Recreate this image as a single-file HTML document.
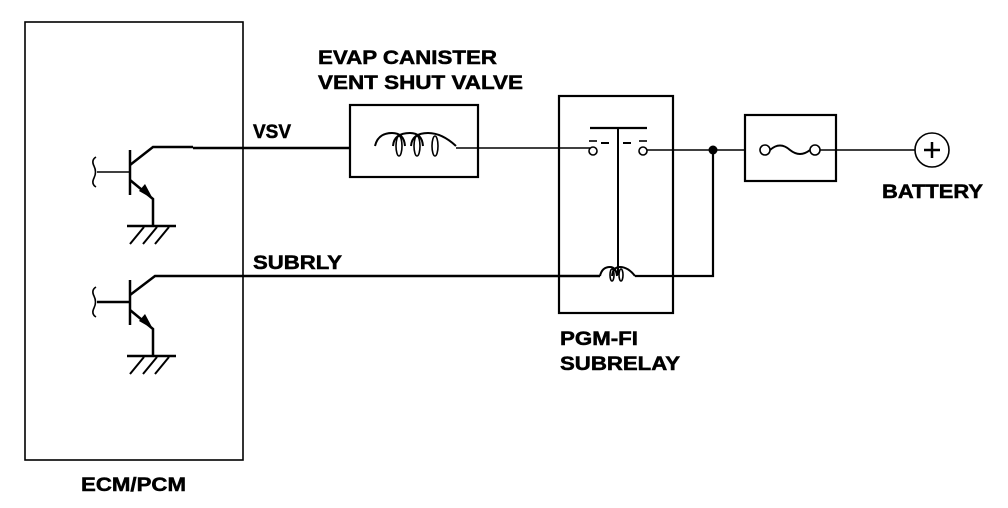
<!DOCTYPE html>
<html><head><style>html,body{margin:0;padding:0;background:#fff}svg{display:block}</style></head>
<body>
<svg width="1008" height="508" viewBox="0 0 1008 508" xmlns="http://www.w3.org/2000/svg">
<g fill="none" stroke="#000" stroke-width="1.6">
<rect x="25" y="22" width="218" height="438"/>
<line x1="130" y1="150" x2="130" y2="195" stroke-width="2.5"/>
<line x1="97" y1="172" x2="130" y2="172"/>
<path d="M96 157 Q91 160 94 166 Q97 172 94 178 Q91 184 96 187"/>
<path d="M130 165 L153 147 L193 147" stroke-width="2.5"/>
<line x1="193" y1="148" x2="350" y2="148" stroke-width="2.5"/>
<path d="M130 180 L153 199 L153 226" stroke-width="2.5"/>
<line x1="127" y1="226" x2="176" y2="226" stroke-width="2.5"/>
<path d="M144 227 L130 244 M157 227 L143 244 M169 227 L155 244" stroke-width="2"/>
<line x1="130" y1="280" x2="130" y2="325" stroke-width="2.5"/>
<line x1="97" y1="302" x2="130" y2="302" stroke-width="2.5"/>
<path d="M96 287 Q91 290 94 296 Q97 302 94 308 Q91 314 96 317"/>
<path d="M130 295 L155 276 L600 276" stroke-width="2.5"/>
<path d="M130 310 L153 329 L153 356" stroke-width="2.5"/>
<line x1="127" y1="356" x2="176" y2="356" stroke-width="2.5"/>
<path d="M144 357 L130 374 M157 357 L143 374 M169 357 L155 374" stroke-width="2"/>
<rect x="350" y="105" width="128" height="72" stroke-width="2.2"/>
<path d="M375 146 Q378 133 392 133 Q404 133 405 146 M393 146 Q394 133 410 133 Q422 133 423 146 M411 146 Q412 133 428 133 Q442 133 456 146" stroke-width="2"/>
<ellipse cx="399" cy="146" rx="3" ry="10"/><ellipse cx="417" cy="146" rx="3" ry="10"/><ellipse cx="435" cy="146" rx="3" ry="10"/>
<line x1="456" y1="148" x2="590" y2="148"/>
<rect x="559" y="96" width="114" height="217" stroke-width="2.2"/>
<line x1="590" y1="128" x2="647" y2="128" stroke-width="2.2"/>
<line x1="618" y1="128" x2="618" y2="275" stroke-width="2"/>
<circle cx="593" cy="151" r="4"/><circle cx="643" cy="151" r="4"/>
<line x1="589" y1="141" x2="597" y2="141"/><line x1="639" y1="141" x2="647" y2="141"/>
<line x1="601" y1="143" x2="609" y2="143" stroke-width="2"/><line x1="623" y1="143" x2="631" y2="143" stroke-width="2"/>
<line x1="647" y1="150" x2="745" y2="150"/>
<path d="M600 276 Q602 267 610 267 Q616 267 617 276 M612 276 Q613 267 620 267 Q628 267 635 276" stroke-width="2"/>
<ellipse cx="612" cy="275" rx="2" ry="6"/><ellipse cx="621" cy="275" rx="2" ry="6"/>
<path d="M635 276 L713 276 L713 150" stroke-width="2.2"/>
<rect x="745" y="115" width="91" height="66" stroke-width="2.2"/>
<circle cx="765" cy="150" r="5"/><circle cx="815" cy="150" r="5"/>
<path d="M770 150 Q780 141 790 150 Q800 158 810 150" stroke-width="2"/>
<line x1="820" y1="150" x2="915" y2="150"/>
<circle cx="932" cy="150" r="17"/>
<line x1="924" y1="150" x2="940" y2="150" stroke-width="2.5"/><line x1="932" y1="142" x2="932" y2="158" stroke-width="2.5"/>
</g>
<circle cx="713" cy="150" r="4.5" fill="#000"/>
<polygon points="153,199 139,191 145,184" fill="#000"/>
<polygon points="153,329 139,321 145,314" fill="#000"/>
<g font-family="Liberation Sans, sans-serif" font-weight="bold" font-size="19" fill="#000" stroke="#000" stroke-width="0.5">
<text x="318" y="64" textLength="179" lengthAdjust="spacingAndGlyphs">EVAP CANISTER</text>
<text x="318" y="89" textLength="205" lengthAdjust="spacingAndGlyphs">VENT SHUT VALVE</text>
<text x="253" y="138" textLength="38" lengthAdjust="spacingAndGlyphs">VSV</text>
<text x="253" y="269" textLength="89" lengthAdjust="spacingAndGlyphs">SUBRLY</text>
<text x="560" y="345" textLength="78" lengthAdjust="spacingAndGlyphs">PGM-FI</text>
<text x="560" y="370" textLength="120" lengthAdjust="spacingAndGlyphs">SUBRELAY</text>
<text x="882" y="198" textLength="101" lengthAdjust="spacingAndGlyphs">BATTERY</text>
<text x="81" y="491" textLength="105" lengthAdjust="spacingAndGlyphs">ECM/PCM</text>
</g>
</svg>
</body></html>
